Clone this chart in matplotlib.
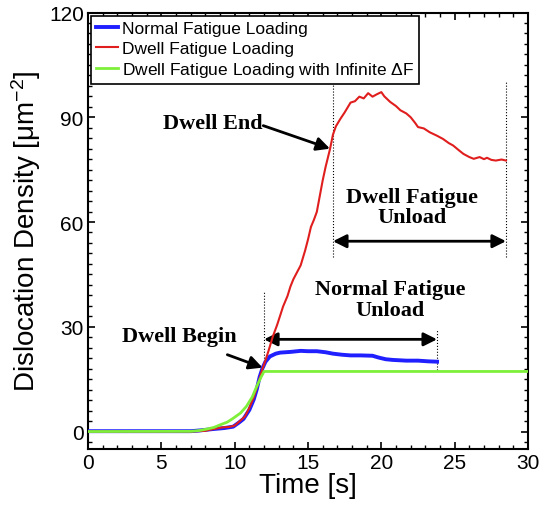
import numpy as np
import matplotlib.pyplot as plt
from matplotlib.ticker import MultipleLocator

plt.rcParams['font.family'] = ['Liberation Sans', 'DejaVu Sans']
plt.rcParams['mathtext.default'] = 'regular'

# curves
normal_t = [0, 5, 7, 7.6, 8.5, 9.3, 9.9, 10.3, 10.6, 11.0, 11.3, 11.5, 11.7, 11.9, 12.1,
            12.4, 12.8, 13.1, 13.8, 14.5, 15.0, 15.6, 16.2, 16.7, 17.3, 17.9, 18.6, 19.4,
            19.8, 20.3, 20.8, 21.7, 22.5, 23.2, 23.8]
normal_rho = [0.1, 0.1, 0.1, 0.3, 0.7, 1.0, 1.4, 2.6, 3.6, 6.2, 9.2, 12.0, 15.6, 18.2, 20.0,
              21.5, 22.3, 22.6, 22.8, 23.1, 23.0, 23.0, 22.7, 22.3, 22.0, 21.8, 21.8, 21.7,
              21.2, 20.7, 20.5, 20.3, 20.3, 20.1, 20.0]

dwell_t = [0, 7, 8, 8.3, 8.8, 9.2, 9.6, 10.0, 10.3, 10.7, 11.0, 11.3, 11.6, 11.9, 12.1,
           12.3, 12.6, 12.9, 13.1, 13.3, 13.6, 13.8, 14.0, 14.3, 14.5, 14.8, 15.0, 15.2,
           15.4, 15.6, 15.8, 16.0, 16.2, 16.5, 16.7, 16.9, 17.2, 17.5, 17.9, 18.2, 18.5,
           18.8, 19.1, 19.4, 19.7, 20.0, 20.2, 20.6, 21.0, 21.3, 21.7, 22.0, 22.3, 22.5,
           22.9, 23.3, 23.8, 24.2, 24.6, 24.9, 25.3, 25.6, 26.0, 26.3, 26.7, 27.0, 27.2,
           27.5, 27.8, 28.2, 28.5]
dwell_rho = [0, 0, 0.2, 0.5, 0.9, 1.2, 1.3, 1.7, 2.8, 4.3, 6.8, 9.8, 13.8, 18.0, 20.4,
             23.0, 27.2, 30.6, 33.2, 35.8, 38.8, 41.5, 43.6, 46.0, 47.6, 51.8, 55.0, 58.6,
             60.6, 62.9, 67.4, 71.9, 75.8, 80.9, 85.0, 87.4, 89.5, 91.4, 94.2, 94.6, 95.9,
             95.4, 96.9, 95.9, 96.6, 97.2, 96.0, 94.4, 93.2, 92.0, 91.1, 90.0, 88.4, 87.2,
             86.8, 85.7, 84.7, 83.8, 82.6, 81.9, 80.5, 79.5, 78.6, 78.1, 78.6, 78.0, 78.4,
             77.8, 77.6, 77.9, 77.6]

inf_t = [0, 7.0, 7.6, 8.1, 8.6, 9.0, 9.5, 9.9, 10.4, 10.8, 11.2, 11.5, 11.8, 12.0, 30]
inf_rho = [0, 0.05, 0.3, 0.7, 1.2, 1.9, 2.7, 3.8, 5.3, 7.2, 9.9, 12.9, 15.6, 17.2, 17.2]

labels = ['Normal Fatigue Loading', 'Dwell Fatigue Loading',
          r'Dwell Fatigue Loading with Infinite $\Delta$F']

# event markers: (time, y from, y to)
dwell_begin = (12.0, 18.6, 40.0)
normal_end = (23.8, 17.7, 29.3)
dwell_end = (16.7, 50.0, 99.6)
dwell_unload_end = (28.5, 50.0, 100.0)

fig = plt.figure(figsize=(5.39, 5.06), dpi=100)
ax = fig.add_axes([0.1633, 0.1107, 0.8163, 0.8626])

ax.plot(normal_t, normal_rho, color='#1f1fff', lw=2.8, label=labels[0], zorder=3)
ax.plot(dwell_t, dwell_rho, color='#e01e1e', lw=1.5, label=labels[1], zorder=4)
ax.plot(inf_t, inf_rho, color='#7ef03a', lw=2.0, label=labels[2], zorder=5)

for t, y0, y1 in [dwell_begin, normal_end, dwell_end, dwell_unload_end]:
    ax.plot([t, t], [y0, y1], color='black', lw=0.8, ls=':', zorder=2)

bold = dict(family=['Liberation Serif', 'DejaVu Serif'], fontweight='bold', fontsize=16)
arw = dict(arrowstyle='-|>', color='black', lw=2, mutation_scale=20, shrinkA=0, shrinkB=0)
dbl = dict(arrowstyle='<|-|>', color='black', lw=2, mutation_scale=20, shrinkA=0, shrinkB=0)

ax.annotate('', xy=(11.9, 18.3), xytext=(9.5, 22.0), arrowprops=arw)
ax.text(6.2, 27.3, 'Dwell Begin', ha='center', va='center', **bold)

ax.annotate('', xy=(16.5, 81.0), xytext=(11.95, 87.6), arrowprops=arw)
ax.text(11.9, 88.5, 'Dwell End', ha='right', va='center', **bold)

ax.annotate('', xy=(normal_end[0], 26.4), xytext=(dwell_begin[0], 26.4), arrowprops=dbl)
ax.text(20.6, 37.9, 'Normal Fatigue\nUnload', ha='center', va='center',
        linespacing=1.05, **bold)

ax.annotate('', xy=(dwell_unload_end[0], 54.5), xytext=(dwell_end[0], 54.5), arrowprops=dbl)
ax.text(22.1, 64.3, 'Dwell Fatigue\nUnload', ha='center', va='center',
        linespacing=1.05, **bold)

ax.set_xlim(0, 30)
ax.set_ylim(-5, 120)
ax.xaxis.set_major_locator(MultipleLocator(5))
ax.xaxis.set_minor_locator(MultipleLocator(1))
ax.yaxis.set_major_locator(MultipleLocator(30))
ax.yaxis.set_minor_locator(MultipleLocator(3))
ax.tick_params(which='both', direction='in', top=True, right=True, labelsize=15, pad=3)
ax.tick_params(which='major', length=5, width=1.2)
ax.tick_params(which='minor', length=3, width=1)
for s in ax.spines.values():
    s.set_linewidth(1.5)

ax.set_xlabel('Time [s]', fontsize=20, labelpad=0)
ax.set_ylabel('Dislocation Density [μm$^{-2}$]', fontsize=20, labelpad=4)

leg = ax.legend(loc='upper left', bbox_to_anchor=(0.006, 0.992), borderaxespad=0,
                fontsize=12.5, handlelength=1.3, handletextpad=0.2, labelspacing=0.25,
                borderpad=0.3, fancybox=False, framealpha=1, edgecolor='black')
leg.get_frame().set_linewidth(1.2)

fig.savefig('out.png', dpi=100)
